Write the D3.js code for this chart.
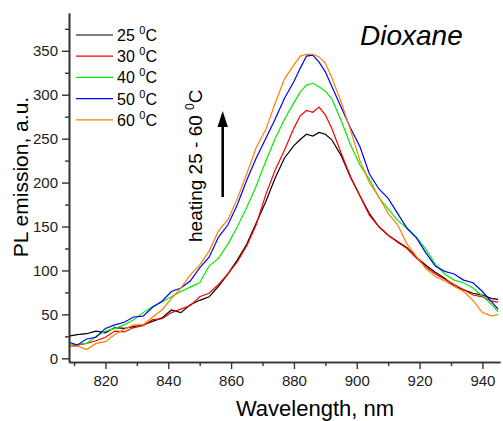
<!DOCTYPE html>
<html>
<head>
<meta charset="utf-8">
<script src="https://cdn.jsdelivr.net/npm/d3@7"></script>
<style>
  body { margin: 0; background: #fff; }
  svg { display: block; font-family: Arial, "Liberation Sans", sans-serif; }
</style>
</head>
<body>
<svg id="chart" width="503" height="421"></svg>
<script>
// wavelength grid, nm
var wavelengths = [808, 811, 814, 817, 820, 823, 826, 829, 832, 835, 838, 841, 844, 847, 850, 853, 856, 859, 862, 865,
    868, 871, 874, 877, 880, 882, 884, 886, 888, 890, 892, 895, 898, 901, 904, 907, 910, 913, 916, 919,
    922, 925, 928, 931, 934, 937, 940, 943, 945];

var t25 = [25, 27, 28, 31, 29, 35, 34, 36, 38, 42, 46, 55, 52, 61, 66, 70, 82, 96, 112, 130,
    154, 178, 205, 228, 242, 249, 255, 253, 257, 255, 249, 231, 206, 185, 165, 150, 140, 133, 126, 115,
    106, 98, 91, 82, 78, 74, 72, 68, 67];
var t30 = [13, 15, 17, 20, 24, 31, 30, 35, 37, 44, 45, 52, 56, 60, 70, 74, 84, 96, 110, 128,
    152, 186, 214, 237, 262, 276, 282, 280, 286, 277, 262, 234, 207, 185, 163, 150, 140, 132, 125, 114,
    104, 96, 90, 84, 78, 72, 70, 65, 64];
var t40 = [15, 16, 17, 25, 31, 34, 38, 44, 52, 59, 64, 70, 76, 81, 86, 105, 114, 130, 150, 172,
    196, 224, 250, 272, 291, 303, 311, 313, 309, 304, 296, 271, 243, 220, 204, 183, 170, 157, 148, 138,
    124, 107, 96, 89, 86, 80, 71, 61, 53];
var t50 = [19, 15, 22, 24, 34, 38, 41, 47, 48, 58, 65, 76, 80, 88, 103, 115, 138, 152, 175, 203,
    228, 250, 272, 296, 315, 330, 344, 345, 337, 326, 310, 286, 262, 241, 210, 193, 182, 165, 148, 137,
    120, 105, 99, 96, 89, 86, 76, 64, 56];
var t60 = [13, 14, 10, 17, 19, 27, 33, 38, 38, 47, 55, 68, 80, 95, 106, 122, 145, 158, 182, 210,
    240, 260, 290, 318, 334, 344, 346, 346, 343, 336, 320, 292, 260, 225, 200, 184, 165, 152, 130, 116,
    102, 93, 88, 82, 76, 66, 52, 48, 50];

var seriesNames = ["25", "30", "40", "50", "60"];
var seriesValues = [t25, t30, t40, t50, t60];
var seriesColors = ["#000000", "#ff0000", "#00ee00", "#0000ff", "#ff8000"];

var yTicks = [0, 50, 100, 150, 200, 250, 300, 350];
var yMinor = [25, 75, 125, 175, 225, 275, 325, 375];
var xTicks = [820, 840, 860, 880, 900, 920, 940];
var xMinor = [810, 830, 850, 870, 890, 910, 930];

var svg = d3.select("#chart");
var mLeft = 69, mRight = 500, mTop = 13, mBottom = 362;

var x = d3.scaleLinear().domain([808.4, 945.6]).range([mLeft, mRight]);
var y = d3.scaleLinear().domain([-4.2, 393]).range([mBottom, mTop]);

svg.append("clipPath").attr("id", "clip")
    .append("rect").attr("x", mLeft).attr("y", mTop).attr("width", mRight - mLeft).attr("height", mBottom - mTop);

// curves
var line = d3.line()
    .x(function (d) { return x(d[0]); })
    .y(function (d) { return y(d[1]); });

seriesValues.forEach(function (vals, i) {
    svg.append("path")
        .datum(wavelengths.map(function (w, j) { return [w, vals[j]]; }))
        .attr("clip-path", "url(#clip)")
        .attr("fill", "none")
        .attr("stroke", seriesColors[i])
        .attr("stroke-width", 1.2)
        .attr("d", line);
});

// axes
var axisColor = "#333";
svg.append("g").attr("transform", "translate(" + mLeft + ",0)")
    .call(d3.axisLeft(y).tickValues(yTicks).tickSize(7).tickPadding(4).tickSizeOuter(0));
svg.append("g").attr("transform", "translate(" + mLeft + ",0)")
    .call(d3.axisLeft(y).tickValues(yMinor).tickSize(4).tickFormat("").tickSizeOuter(0));
svg.append("g").attr("transform", "translate(0," + mBottom + ")")
    .call(d3.axisBottom(x).tickValues(xTicks).tickSize(7).tickPadding(6).tickSizeOuter(0));
svg.append("g").attr("transform", "translate(0," + mBottom + ")")
    .call(d3.axisBottom(x).tickValues(xMinor).tickSize(4).tickFormat("").tickSizeOuter(0));

svg.selectAll(".domain").attr("stroke", axisColor).attr("stroke-width", 1.6);
svg.selectAll(".tick line").attr("stroke", axisColor).attr("stroke-width", 1.4);
svg.selectAll(".tick text").attr("fill", "#222").style("font-size", "15px")
    .style("font-family", "Arial, 'Liberation Sans', sans-serif");

// axis titles
svg.append("text")
    .attr("transform", "translate(28,177) rotate(-90)")
    .attr("text-anchor", "middle")
    .style("font-size", "21px")
    .text("PL emission, a.u.");

svg.append("text")
    .attr("x", 315).attr("y", 416)
    .attr("text-anchor", "middle")
    .style("font-size", "22px")
    .text("Wavelength, nm");

// legend
var legend = svg.append("g");
seriesNames.forEach(function (name, i) {
    var ly = 35 + i * 21.2;
    legend.append("line")
        .attr("x1", 76).attr("x2", 113).attr("y1", ly).attr("y2", ly)
        .attr("stroke", seriesColors[i]).attr("stroke-width", 1.2);
    var t = legend.append("text").attr("x", 117).attr("y", ly + 6).style("font-size", "16px");
    t.append("tspan").text(name + " ");
    t.append("tspan").attr("dy", -7).style("font-size", "11px").text("0");
    t.append("tspan").attr("dy", 7).text("C");
});

// solvent name
svg.append("text")
    .attr("x", 360).attr("y", 45)
    .style("font-size", "28px")
    .style("font-style", "italic")
    .text("Dioxane");

// heating annotation
var ht = svg.append("text")
    .attr("transform", "translate(202,242) rotate(-90)")
    .style("font-size", "19px");
ht.append("tspan").text("heating 25 - 60 ");
ht.append("tspan").attr("dy", -8).style("font-size", "12px").text("0");
ht.append("tspan").attr("dy", 8).text("C");

svg.append("line")
    .attr("x1", 222.7).attr("x2", 222.7).attr("y1", 197).attr("y2", 124)
    .attr("stroke", "#000").attr("stroke-width", 2.6);
svg.append("path")
    .attr("d", "M222.7,111 L217.5,127 L227.9,127 Z")
    .attr("fill", "#000");
</script>
</body>
</html>
